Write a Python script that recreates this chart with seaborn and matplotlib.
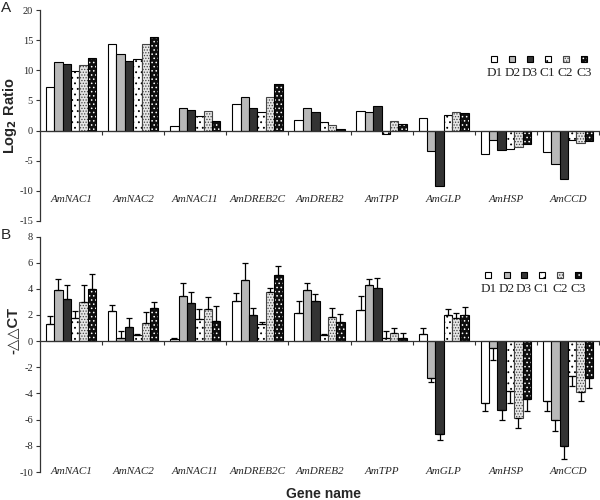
import numpy as np
import pandas as pd
import matplotlib
matplotlib.use("Agg")
import matplotlib.pyplot as plt
import seaborn as sns
from matplotlib.patches import Rectangle

genes = ["AmNAC1", "AmNAC2", "AmNAC11", "AmDREB2C", "AmDREB2",
         "AmTPP", "AmGLP", "AmHSP", "AmCCD"]
series = ["D1", "D2", "D3", "C1", "C2", "C3"]

# Panel A: Log2 ratio
a_D1 = [7.16, 14.3, 0.83, 4.35, 1.8, 3.3, 2.1, -3.86, -3.6]
a_D2 = [11.3, 12.7, 3.75, 5.5, 3.75, 3.14, -3.47, -1.5, -5.6]
a_D3 = [11.0, 11.6, 3.36, 3.75, 3.1, 4.1, -9.2, -3.2, -8.0]
a_C1 = [9.9, 11.9, 2.4, 3.1, 1.43, -0.55, 2.64, -3.1, -1.5]
a_C2 = [10.85, 14.4, 3.25, 5.6, 0.94, 1.6, 3.1, -2.8, -2.0]
a_C3 = [12.0, 15.6, 1.65, 7.7, 0.28, 1.05, 2.87, -2.2, -1.7]

# Panel B: -ddCT
b_D1 = [1.32, 2.34, 0.15, 3.08, 2.14, 2.39, 0.56, -4.73, -4.6]
b_D2 = [3.89, 0.25, 3.48, 4.68, 3.89, 4.32, -2.8, -0.51, -6.0]
b_D3 = [3.2, 1.12, 2.92, 1.98, 3.05, 4.07, -7.09, -5.24, -8.03]
b_C1 = [1.78, 0.46, 1.73, 1.32, 0.46, 0.25, 2.03, -3.8, -2.65]
b_C2 = [3.0, 1.37, 2.47, 3.74, 1.86, 0.61, 1.78, -5.88, -3.85]
b_C3 = [4.02, 2.52, 1.53, 5.06, 1.5, 0.25, 2.03, -4.45, -2.83]

# Panel B error bars (one-sided)
e_D1 = [0.58, 0.41, 0.13, 0.63, 0.91, 1.04, 0.43, 0.57, 0.77]
e_D2 = [0.89, 0.51, 0.94, 1.27, 0.53, 0.46, 0.35, 0.92, 0.84]
e_D3 = [1.12, 0.66, 0.84, 0.54, 0.56, 0.79, 0.44, 0.76, 0.97]
e_C1 = [0.53, 0.07, 0.76, 0.15, 0.12, 0.54, 0.41, 0.93, 0.76]
e_C2 = [1.27, 0.89, 0.93, 0.30, 0.66, 0.41, 0.38, 0.76, 0.75]
e_C3 = [1.12, 0.45, 1.19, 0.66, 0.58, 0.39, 0.56, 0.92, 0.76]

A = [a_D1, a_D2, a_D3, a_C1, a_C2, a_C3]
B = [b_D1, b_D2, b_D3, b_C1, b_C2, b_C3]
E = [e_D1, e_D2, e_D3, e_C1, e_C2, e_C3]

sns.set_style("white")
plt.rcParams["axes.unicode_minus"] = False
plt.rcParams["hatch.linewidth"] = 0.6

faces = ["#ffffff", "#b8b8b8", "#333333", "#ffffff", "#e6e6e6", "#0f0f0f"]
hatches = [None, None, None, "...", "......", "...."]
edges = ["black", "black", "black", "black", "#444444", "white"]
lws = [0.8, 0.8, 0.8, 0.8, 0.8, 0.0]
WIDTH = 0.81
serif = "Liberation Serif"
sans = ["Liberation Sans", "DejaVu Sans"]

fig = plt.figure(figsize=(6, 5), dpi=100)
axA = fig.add_axes([40 / 600, 1 - 221 / 500, 559 / 600, (221 - 10) / 500])
axB = fig.add_axes([40 / 600, 1 - 472 / 500, 559 / 600, (472 - 236.5) / 500])


def long_df(vals):
    rows = []
    for s, arr in zip(series, vals):
        for g, v in zip(genes, arr):
            rows.append({"gene": g, "series": s, "value": v})
    return pd.DataFrame(rows)


def draw_panel(ax, vals, errs, ylim, yticks, label_y, ylabel, ylab_y):
    df = long_df(vals)
    sns.barplot(data=df, x="gene", y="value", hue="series", order=genes,
                hue_order=series, palette=faces, width=WIDTH, errorbar=None,
                legend=False, ax=ax, edgecolor="black", linewidth=0.8,
                saturation=1)
    bar_w = WIDTH / len(series)
    for p in ax.patches:
        xc = p.get_x() + p.get_width() / 2
        cat = int(round(xc))
        hi = int(round((xc - cat + WIDTH / 2) / bar_w - 0.5))
        hi = max(0, min(len(series) - 1, hi))
        p.set_facecolor(faces[hi])
        p.set_edgecolor(edges[hi])
        p.set_linewidth(lws[hi])
        if hatches[hi]:
            p.set_hatch(hatches[hi])
        if errs is not None:
            v = vals[hi][cat]
            e = errs[hi][cat]
            yerr = [[0], [e]] if v >= 0 else [[e], [0]]
            ax.errorbar([xc], [v], yerr=yerr, fmt="none", ecolor="black",
                        elinewidth=0.9, capsize=2.5, capthick=0.9, zorder=3)
    # outline for black-dotted bars
    for p in list(ax.patches):
        if p.get_linewidth() == 0:
            ax.add_patch(Rectangle(p.get_xy(), p.get_width(), p.get_height(),
                                   fill=False, edgecolor="black", linewidth=0.8,
                                   zorder=p.get_zorder() + 0.1))
    ax.set_xlim(-0.5, len(genes) - 0.5)
    ax.set_ylim(*ylim)
    ax.set_yticks(yticks)
    ax.set_yticklabels([str(t) for t in yticks], family=serif, fontsize=7.5)
    ax.set_xticks(np.arange(0.5, len(genes), 1))
    ax.set_xticklabels([])
    ax.set_xlabel("")
    ax.spines["top"].set_visible(False)
    ax.spines["right"].set_visible(False)
    ax.spines["bottom"].set_position(("data", 0))
    for sp in ("left", "bottom"):
        ax.spines[sp].set_color("#333333")
        ax.spines[sp].set_linewidth(0.9)
    ax.tick_params(axis="both", direction="out", length=3, width=0.8,
                   color="#333333", pad=2, left=True, bottom=True)
    for i, g in enumerate(genes):
        ax.text(i, label_y, g, ha="center", va="center", style="italic",
                family=serif, fontsize=8, clip_on=False)
    ax.set_ylabel(ylabel, family=sans, fontweight="bold", fontsize=10.5)
    ax.yaxis.set_label_coords(-0.037, ylab_y)


draw_panel(axA, A, None, (-15, 20), list(range(-15, 21, 5)), -11.4,
           "Log$_\\mathbf{2}$ Ratio", 0.5)
draw_panel(axB, B, E, (-10, 8), list(range(-10, 9, 2)), -10,
           "-\u25b3\u25b3CT", 0.6)


def legend(xs, ysq, ylab):
    for i, (s, x) in enumerate(zip(series, xs)):
        r = Rectangle((x / 600 - 3 / 600, 1 - (ysq + 3) / 500), 6 / 600, 6 / 500,
                      transform=fig.transFigure, facecolor=faces[i],
                      edgecolor=edges[i] if lws[i] > 0 else "white",
                      linewidth=lws[i] if lws[i] > 0 else 0,
                      hatch=hatches[i])
        fig.add_artist(r)
        if lws[i] == 0:
            fig.add_artist(Rectangle((x / 600 - 3 / 600, 1 - (ysq + 3) / 500),
                                     6 / 600, 6 / 500, transform=fig.transFigure,
                                     fill=False, edgecolor="black", linewidth=0.8))
        fig.text(x / 600, 1 - ylab / 500, s, ha="center", va="center",
                 family=serif, fontsize=9.5)


legend([494.3, 512.3, 530, 547.7, 565.7, 584], 59, 73.5)
legend([488.3, 506.7, 524, 541.7, 560, 577.7], 275, 289.5)

fig.text(1 / 600, 1 - 8 / 500, "A", family=sans, fontsize=11, ha="left", va="center")
fig.text(1 / 600, 1 - 235 / 500, "B", family=sans, fontsize=11, ha="left", va="center")
fig.text(323 / 600, 1 - 494 / 500, "Gene name", family=sans, fontweight="bold",
         fontsize=10, ha="center", va="center")

fig.savefig("out.png", dpi=100)
